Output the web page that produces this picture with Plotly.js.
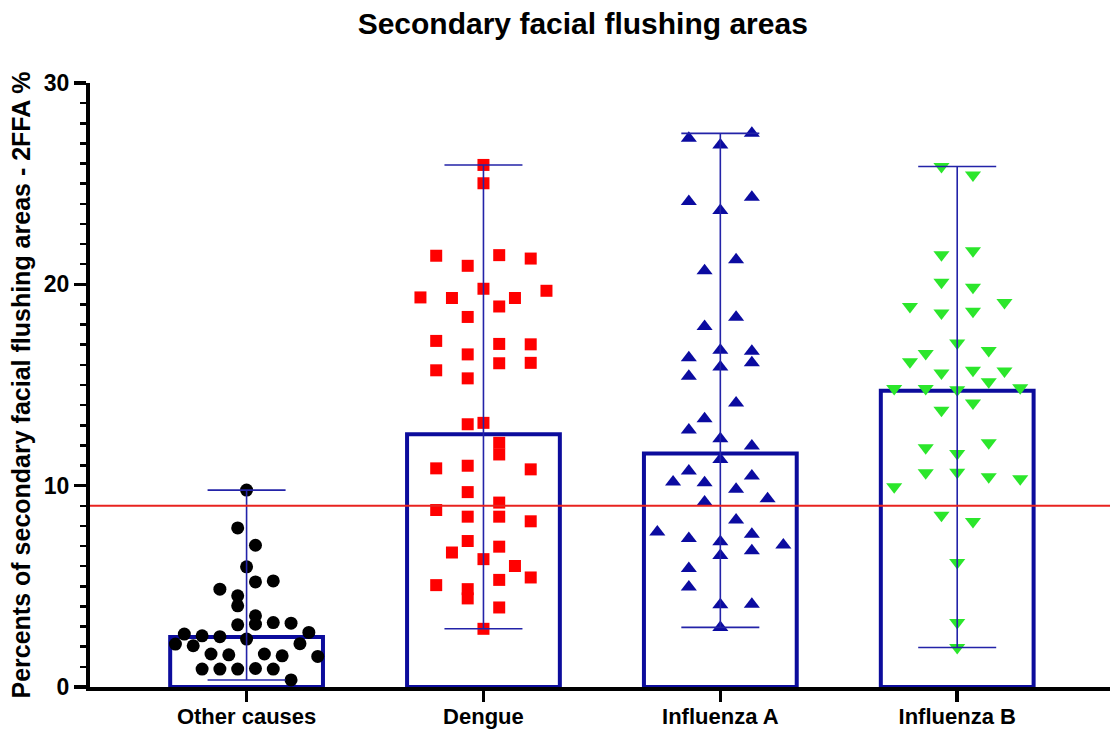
<!DOCTYPE html>
<html>
<head>
<meta charset="utf-8">
<script src="https://cdn.plot.ly/plotly-3.0.1.min.js"></script>
<style>
  html, body { margin: 0; padding: 0; background: #ffffff; }
  #chart { width: 1110px; height: 731px; }
</style>
</head>
<body>
<div id="chart"></div>
<script>
// ---- Data ----
const categories = ['Other causes', 'Dengue', 'Influenza A', 'Influenza B'];

// Each group: values listed row by row (points of similar value share a row), left to right.
const otherCausesRows = [
  [9.78],
  [7.9, 7.04],
  [5.97],
  [4.86, 4.53, 5.22, 5.27],
  [4.03, 3.54],
  [2.63, 2.54, 2.5, 3.09, 3.12, 3.2, 3.17, 2.71],
  [2.13, 2.05, 1.64, 1.6, 2.38, 1.64, 1.55, 2.15, 1.52],
  [0.89, 0.89, 0.89, 0.92, 0.89, 0.35]
];
const dengueRows = [
  [25.93],
  [25.02],
  [21.42, 20.92, 21.45, 21.28],
  [19.35, 19.32, 19.78, 19.32, 19.68],
  [18.38, 18.9],
  [17.19, 16.52, 17.04, 17.02],
  [15.73, 15.33, 16.08, 16.1],
  [13.12],
  [13.05, 12.13],
  [10.86, 10.99, 11.55, 10.81],
  [9.68, 9.16],
  [8.79, 8.46, 8.46, 8.23],
  [7.25, 6.97],
  [6.68, 6.35, 6.01],
  [5.06, 4.86, 5.32, 5.44],
  [4.4, 3.95],
  [2.89]
];
const influenzaARows = [
  [27.25, 26.92, 27.5],
  [24.11, 23.67, 24.33],
  [20.67, 21.22],
  [17.91, 18.36],
  [16.35, 16.72, 16.68],
  [15.43, 15.9, 16.1],
  [13.32, 14.1],
  [12.76, 12.33, 11.97],
  [10.73, 11.3, 10.48],
  [10.18, 10.15, 9.82, 9.35],
  [9.19, 8.29],
  [7.7, 7.37, 7.22, 7.59, 7.05],
  [5.88, 6.53, 6.77],
  [4.97, 4.08, 4.11],
  [2.96]
];
const influenzaBRows = [
  [25.85, 25.43],
  [21.47, 21.67],
  [20.1, 19.85],
  [18.9, 18.57, 18.66, 19.1],
  [16.56, 17.09, 16.71],
  [16.15, 15.6, 15.73, 15.69],
  [14.82, 14.82, 14.77, 15.16, 14.86],
  [13.75, 14.1],
  [11.88, 11.6, 12.13],
  [9.95, 10.64, 10.67, 10.44, 10.34],
  [8.53, 8.22],
  [6.18],
  [3.2],
  [1.96]
];

// Median bar heights
const medianValues = [2.48, 12.55, 11.6, 14.72];
// Horizontal reference line
const thresholdValue = 9.0;

// ---- Styling ----
const groups = [otherCausesRows, dengueRows, influenzaARows, influenzaBRows];
const markerStyles = [
  { symbol: 'circle', color: '#000000', size: 13 },
  { symbol: 'square', color: '#ff0000', size: 12 },
  { symbol: 'triangle-up', color: '#0b0ba0', size: 14 },
  { symbol: 'triangle-down', color: '#2be62b', size: 14 }
];
const rowSpacing = [0.0751, 0.133, 0.133, 0.133]; // spread between neighbours in a row (axis units)
const navy = '#0c0c9c';
const fontFam = '"Liberation Sans", Arial, sans-serif';

const traces = [];

// Median bars (outline only)
traces.push({
  type: 'bar',
  x: categories.map((c, i) => i),
  y: medianValues,
  width: 0.645,
  marker: { color: 'rgba(0,0,0,0)', line: { color: navy, width: 4 } },
  hoverinfo: 'skip',
  showlegend: false
});

// Scatter points
groups.forEach((rows, gi) => {
  const xs = [], ys = [];
  rows.forEach(row => {
    const n = row.length;
    row.forEach((v, i) => {
      xs.push(gi + (i - (n - 1) / 2) * rowSpacing[gi]);
      ys.push(v);
    });
  });
  const st = markerStyles[gi];
  traces.push({
    type: 'scatter', mode: 'markers',
    x: xs, y: ys,
    marker: { symbol: st.symbol, color: st.color, size: st.size, line: { width: 0 } },
    name: categories[gi],
    showlegend: false
  });
});

// Range error bars (min to max) around the median
const mins = groups.map(rows => Math.min(...rows.flat()));
const maxs = groups.map(rows => Math.max(...rows.flat()));
traces.push({
  type: 'scatter', mode: 'markers',
  x: categories.map((c, i) => i),
  y: medianValues,
  marker: { size: 1, opacity: 0 },
  error_y: {
    type: 'data', symmetric: false,
    array: maxs.map((m, i) => m - medianValues[i]),
    arrayminus: mins.map((m, i) => medianValues[i] - m),
    color: '#2323a8', thickness: 1.6, width: 39
  },
  hoverinfo: 'skip',
  showlegend: false
});

const layout = {
  width: 1110, height: 731,
  margin: { l: 90, r: 0, t: 83, b: 44, pad: 0 },
  paper_bgcolor: '#ffffff', plot_bgcolor: '#ffffff',
  font: { family: fontFam, color: '#000000' },
  title: {
    text: 'Secondary facial flushing areas',
    font: { family: fontFam, size: 30, weight: 'bold', color: '#000000' },
    x: 0.525, xref: 'container', xanchor: 'center',
    y: 0.968, yref: 'container', yanchor: 'middle'
  },
  showlegend: false,
  xaxis: {
    range: [-0.661, 3.645],
    tickvals: categories.map((c, i) => i),
    ticktext: categories,
    showline: true, linecolor: '#000000', linewidth: 4,
    ticks: 'outside', ticklen: 11, tickwidth: 3.5, tickcolor: '#000000',
    ticklabelstandoff: -4,
    tickfont: { family: fontFam, size: 22, weight: 'bold', color: '#000000' },
    showgrid: false, zeroline: false, fixedrange: true
  },
  yaxis: {
    range: [0, 30],
    tickvals: [0, 10, 20, 30],
    showline: true, linecolor: '#000000', linewidth: 4,
    ticks: 'outside', ticklen: 12, tickwidth: 3.5, tickcolor: '#000000',
    minor: { ticks: 'outside', dtick: 1, tick0: 0, ticklen: 6, tickwidth: 2.5, tickcolor: '#000000' },
    tickfont: { family: fontFam, size: 23, weight: 'bold', color: '#000000' },
    title: {
      text: 'Percents of secondary facial flushing areas - 2FFA %',
      font: { family: fontFam, size: 25, weight: 'bold', color: '#000000' },
      standoff: 7
    },
    showgrid: false, zeroline: false, fixedrange: true
  },
  shapes: [{
    type: 'line', xref: 'paper', x0: 0, x1: 1, yref: 'y', y0: thresholdValue, y1: thresholdValue,
    line: { color: '#e8231f', width: 2 }, layer: 'above'
  }]
};

Plotly.newPlot('chart', traces, layout, { displayModeBar: false, staticPlot: true });
</script>
</body>
</html>
